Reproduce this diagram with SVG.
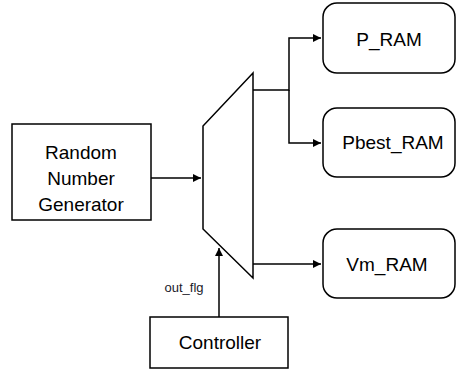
<svg xmlns="http://www.w3.org/2000/svg" width="456" height="370" viewBox="0 0 456 370">
<defs>
<marker id="arr" viewBox="0 0 8 8" refX="8" refY="4" markerWidth="8" markerHeight="8" markerUnits="userSpaceOnUse" orient="auto">
<path d="M0,0 L8,4 L0,8 z" fill="#000"/>
</marker>
<style>
.box{fill:#fff;stroke:#000;stroke-width:1.5}
.t{font-family:"Liberation Sans",Arial,sans-serif;font-size:19px;fill:#000;text-anchor:middle;dominant-baseline:central}
.s{font-family:"Liberation Sans",Arial,sans-serif;font-size:13px;fill:#1a1a2a;text-anchor:middle;dominant-baseline:central}
.c{fill:none;stroke:#000;stroke-width:1.5}
</style>
</defs>
<rect width="456" height="370" fill="#fff"/>
<g id="connectors">
<path class="c" d="M151,178 H201" marker-end="url(#arr)"/>
<path class="c" d="M253,90 H289 V38 H321" marker-end="url(#arr)"/>
<path class="c" d="M289,90 V143 H321" marker-end="url(#arr)"/>
<path class="c" d="M253,264 H321" marker-end="url(#arr)"/>
<path class="c" d="M219,317 V248" marker-end="url(#arr)"/>
<text class="s" x="184" y="287">out_flg</text>
</g>
<g id="mux">
<path class="box" d="M253,73 L203,126 V229 L253,278 Z"/>
</g>
<g id="rng">
<rect class="box" x="12" y="124" width="139" height="96"/>
<text class="t" x="81" y="152">Random</text>
<text class="t" x="81" y="178">Number</text>
<text class="t" x="81" y="204">Generator</text>
</g>
<g id="p_ram">
<rect class="box" x="323" y="3" width="132" height="70" rx="14"/>
<text class="t" x="389" y="39">P_RAM</text>
</g>
<g id="pbest_ram">
<rect class="box" x="323" y="108" width="132" height="69" rx="14"/>
<text class="t" x="393" y="142">Pbest_RAM</text>
</g>
<g id="vm_ram">
<rect class="box" x="323" y="229" width="132" height="69" rx="14"/>
<text class="t" x="387" y="264">Vm_RAM</text>
</g>
<g id="controller">
<rect class="box" x="150" y="317" width="138" height="51"/>
<text class="t" x="220" y="342">Controller</text>
</g>
</svg>
